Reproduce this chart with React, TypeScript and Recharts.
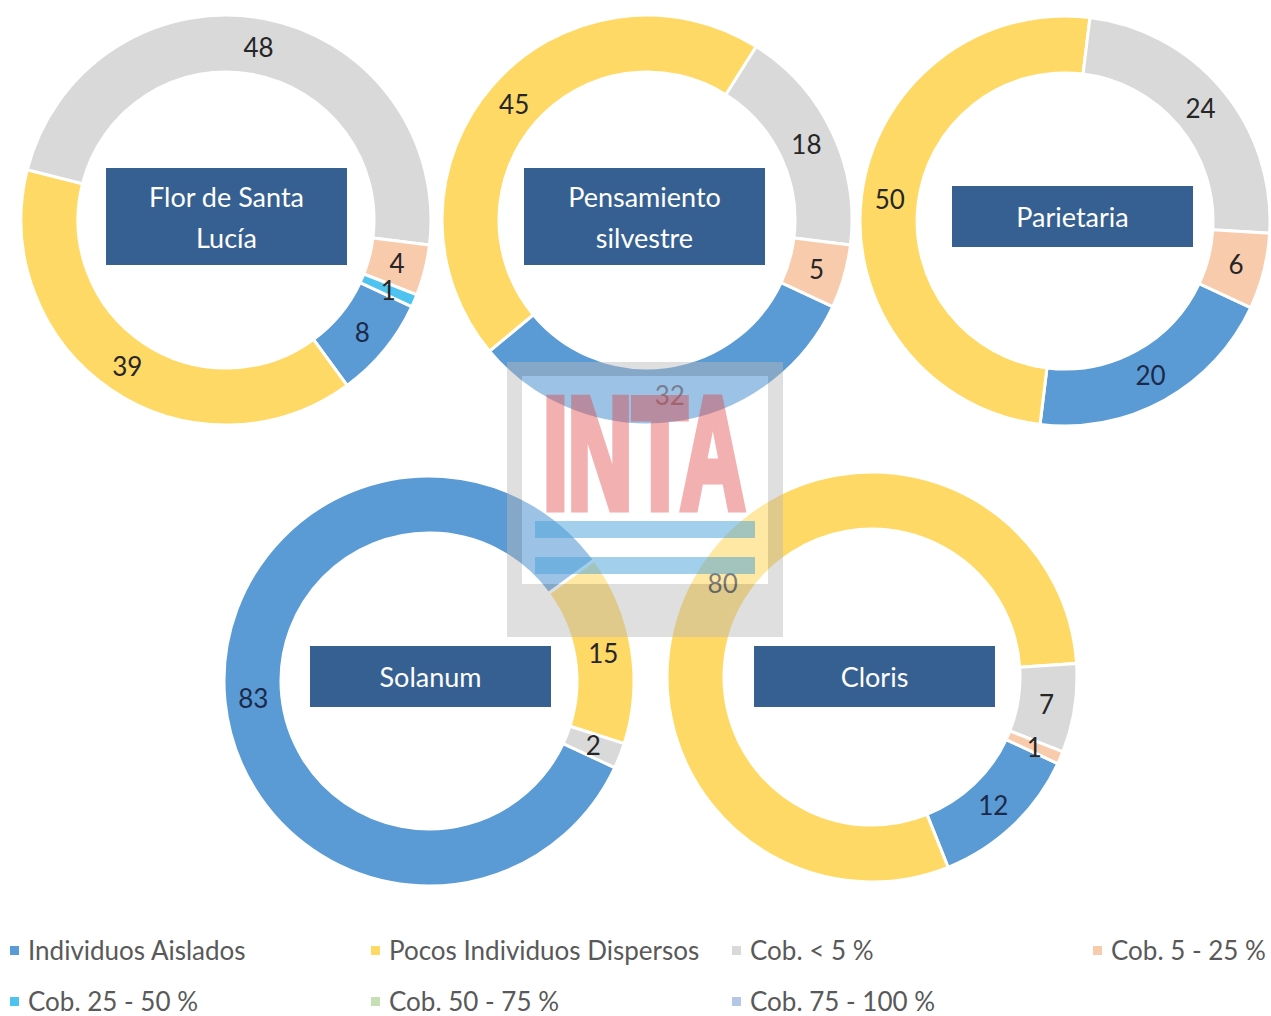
import React from "react";
import { PieChart, Pie } from "recharts";

// categories (same order for every donut, clockwise)
const categories = [
  "Individuos Aislados",
  "Pocos Individuos Dispersos",
  "Cob. < 5 %",
  "Cob. 5 - 25 %",
  "Cob. 25 - 50 %",
  "Cob. 50 - 75 %",
  "Cob. 75 - 100 %",
];
const colors = ["#5B9BD5", "#FFD966", "#D9D9D9", "#F8CBAD", "#4FC3F0", "#C5E0B4", "#B4C7E7"];

const species = ["Flor de Santa Lucía", "Pensamiento silvestre", "Parietaria", "Solanum", "Cloris"];

const florDeSantaLucia = [8, 39, 48, 4, 1, 0, 0];
const pensamientoSilvestre = [32, 45, 18, 5, 0, 0, 0];
const parietaria = [20, 50, 24, 6, 0, 0, 0];
const solanum = [83, 15, 2, 0, 0, 0, 0];
const cloris = [12, 80, 7, 1, 0, 0, 0];

const seriesValues = [florDeSantaLucia, pensamientoSilvestre, parietaria, solanum, cloris];

// layout
const centers = [
  { x: 226, y: 220 },
  { x: 647, y: 220 },
  { x: 1065, y: 221 },
  { x: 429, y: 681 },
  { x: 872, y: 677 },
];
const boxes = [
  { left: 106, top: 168, w: 241, h: 97 },
  { left: 524, top: 168, w: 241, h: 97 },
  { left: 952, top: 186, w: 241, h: 61 },
  { left: 310, top: 646, w: 241, h: 61 },
  { left: 754, top: 646, w: 241, h: 61 },
];

const FONT = "Lato, 'Open Sans', sans-serif";
const RAD = Math.PI / 180;

const renderLabel = (props: any) => {
  const { cx, cy, midAngle, innerRadius, outerRadius, value, payload } = props;
  if (!value) return null;
  const r = (innerRadius + outerRadius) / 2;
  const x = cx + r * Math.cos(-midAngle * RAD);
  const y = cy + r * Math.sin(-midAngle * RAD);
  const fill = payload && payload.idx === 0 ? "#1B2A4A" : "#262626";
  return (
    <text
      x={x}
      y={y}
      textAnchor="middle"
      dominantBaseline="central"
      fill={fill}
      fontFamily={FONT}
      fontSize={26}
    >
      {value}
    </text>
  );
};

export default function App() {
  const pies = seriesValues.map((vals) =>
    vals
      .map((v, i) => ({ name: categories[i], value: v, fill: colors[i], idx: i }))
      .filter((d) => d.value > 0)
  );

  return (
    <div
      style={{
        position: "absolute",
        left: 0,
        top: 0,
        width: 1271,
        height: 1016,
        background: "#fff",
        fontFamily: FONT,
        overflow: "hidden",
      }}
    >
      <PieChart width={1271} height={930} margin={{ top: 0, right: 0, bottom: 0, left: 0 }}>
        {pies.map((data, k) => (
          <Pie
            key={species[k]}
            data={data}
            dataKey="value"
            nameKey="name"
            cx={centers[k].x}
            cy={centers[k].y}
            innerRadius={148}
            outerRadius={205}
            startAngle={-25}
            endAngle={-385}
            stroke="#ffffff"
            strokeWidth={3}
            label={renderLabel}
            labelLine={false}
            isAnimationActive={false}
          />
        ))}
      </PieChart>

      {species.map((s, k) => (
        <div
          key={s}
          style={{
            position: "absolute",
            left: boxes[k].left,
            top: boxes[k].top,
            width: boxes[k].w,
            height: boxes[k].h,
            background: "#376092",
            color: "#fff",
            display: "flex",
            alignItems: "center",
            justifyContent: "center",
            textAlign: "center",
            fontSize: 27,
            lineHeight: "41px",
          }}
        >
          <div style={{ width: 200 }}>{s}</div>
        </div>
      ))}

      {/* watermark */}
      <svg
        width={276}
        height={275}
        style={{ position: "absolute", left: 507, top: 362 }}
      >
        <path
          d="M0 0 H276 V275 H0 Z M15 14 V222 H261 V14 Z"
          fill="rgba(185,185,185,0.45)"
          fillRule="evenodd"
        />
        <rect x={15} y={14} width={246} height={208} fill="rgba(255,255,255,0.4)" />
        <g opacity={0.4}>
          <text
            x={36}
            y={146}
            textLength={202}
            lengthAdjust="spacingAndGlyphs"
            fontFamily="'Liberation Sans', Arial, sans-serif"
            fontWeight="bold"
            fontSize={158}
            fill="rgb(225,60,60)"
            stroke="rgb(225,60,60)"
            strokeWidth={9}
          >
            INTA
          </text>
        </g>
        <rect x={28} y={159} width={220} height={17} fill="rgba(70,160,215,0.5)" />
        <rect x={28} y={195} width={220} height={17} fill="rgba(70,160,215,0.5)" />
      </svg>

      {/* legend */}
      {categories.map((c, i) => {
        const col = i < 4 ? i : i - 4;
        const row = i < 4 ? 0 : 1;
        const x = 10 + col * 361;
        const y = 950 + row * 51;
        return (
          <div
            key={c}
            style={{
              position: "absolute",
              left: x,
              top: y - 14,
              height: 28,
              lineHeight: "28px",
              display: "flex",
              alignItems: "center",
              whiteSpace: "nowrap",
              color: "#595959",
              fontSize: 26,
            }}
          >
            <span
              style={{
                display: "inline-block",
                width: 9,
                height: 9,
                background: colors[i],
                marginRight: 9,
              }}
            />
            {c}
          </div>
        );
      })}
    </div>
  );
}
